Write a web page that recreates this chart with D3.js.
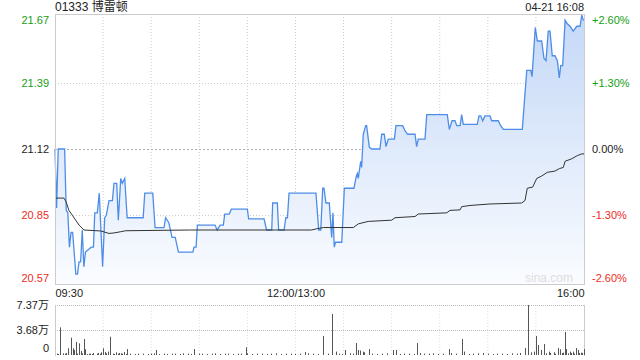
<!DOCTYPE html>
<html>
<head>
<meta charset="utf-8">
<script src="https://cdn.jsdelivr.net/npm/d3@7"></script>
<style>
body { margin: 0; background: #fff; }
svg { font-family: "Liberation Sans", Arial, sans-serif; }
</style>
</head>
<body>
<svg id="chart" width="640" height="360"></svg>
<script>
// minute index (0 = 09:30, 150 = 12:00/13:00, 330 = 16:00)
const priceMin = [0,1,2,6,7,8,9,10,11,13,14,15,16,17,18,19,22.6,24,24.8,26.4,27.6,29.7,31,32,33.7,35.8,36.8,38.5,39.5,41,42,43.5,45,55,56,61,62.4,68,69,71,73,75,77,84,86,86.7,88,88.8,99.8,101.2,103,105,105.9,108.7,110,120,120.8,130.4,132,135.2,135.8,138.7,139.5,142.9,144,145,146,162.8,164.5,165.8,167,167.8,169,171.1,172.6,173.4,174.2,175,178.9,180.5,186.5,187.8,188.6,189.2,190.7,191.3,192.3,193.8,194.4,196.1,197.6,202.7,203.8,205.4,206.5,207.9,211.7,212.7,216.9,218.3,220,224.6,225.6,226.6,230.8,231.9,244.7,246,247.7,249.5,250.6,252.7,253.7,254.7,263.4,264.5,265.6,266.8,268.2,271.4,272.4,276.5,278,279.7,291.5,294.3,296.8,297.6,299.6,300.9,303.6,305,306.3,307.7,308.8,310.2,311.9,313.4,314.6,315.5,316.7,318.2,319.6,321.3,323.3,325.5,327.5,328.6,329.6,330];
const priceVal = [21.12,20.88,21.12,21.12,20.87,20.86,20.72,20.78,20.78,20.61,20.61,20.66,20.66,20.79,20.64,20.70,20.72,20.72,20.86,20.86,20.94,20.64,20.84,20.85,20.91,20.91,20.98,20.98,20.83,21.00,20.98,21.00,20.84,20.84,20.94,20.94,20.80,20.80,20.84,20.82,20.76,20.76,20.70,20.70,20.70,20.72,20.72,20.81,20.81,20.79,20.81,20.81,20.855,20.855,20.875,20.875,20.835,20.835,20.79,20.79,20.90,20.90,20.79,20.79,20.84,20.84,20.94,20.94,20.79,20.79,20.96,20.96,20.90,20.90,20.76,20.86,20.72,20.74,20.74,20.96,20.96,21.005,21.02,21.00,21.07,21.045,21.18,21.215,21.215,21.127,21.12,21.12,21.18,21.18,21.13,21.16,21.16,21.215,21.215,21.195,21.18,21.18,21.13,21.16,21.16,21.26,21.26,21.20,21.235,21.235,21.215,21.215,21.26,21.22,21.22,21.255,21.255,21.235,21.255,21.255,21.235,21.235,21.215,21.20,21.20,21.44,21.44,21.415,21.615,21.56,21.56,21.49,21.48,21.60,21.60,21.50,21.50,21.48,21.41,21.46,21.46,21.645,21.63,21.62,21.60,21.62,21.62,21.665,21.645,21.645];

const avgMin = [0.4,5.6,6.9,8.7,10.8,12.9,15,18.1,28.5,33.7,36.8,41,44.1,84,160,163.3,167.4,186.1,189.2,195.4,210,212.1,224.6,226.6,244.4,246.4,252.7,253.7,258.9,271.4,291.1,293.2,294.6,298,300.5,303.6,307.1,311.9,314.6,317.1,318.2,322.3,325.8,328.6,330];
const avgVal = [20.92,20.92,20.905,20.87,20.85,20.83,20.81,20.79,20.786,20.776,20.778,20.783,20.787,20.79,20.79,20.795,20.80,20.80,20.815,20.825,20.83,20.84,20.845,20.855,20.86,20.87,20.872,20.885,20.89,20.896,20.90,20.91,20.96,20.965,21.00,21.01,21.025,21.03,21.04,21.045,21.07,21.08,21.093,21.10,21.10];

// volume, in 万 shares
const volMin = [3,8,10,11,12,13,15,16,18,19,24,29,30,31,33,34,38,40,43,45,63,87,119,156,167,173,175,181,188,189,190,192,193,196,211,213,226,228,246,247,254,255,267,293,295,297,299,300,301,303,305,308,311,314,315,318,319,321,323,325,326,330];
const volVal = [4.08,0.99,2.55,0.99,0.74,1.92,1.72,0.6,2.36,0.84,0.3,0.4,0.99,0.45,0.5,2.70,0.4,0.3,0.45,0.88,0.74,0.88,1.13,0.45,2.80,6.04,0.5,0.74,1.77,0.74,0.66,0.5,0.4,0.88,0.74,0.74,1.77,0.3,0.88,0.3,2.36,0.5,0.3,1.03,7.37,0.4,0.5,2.80,1.47,0.74,1.62,0.5,0.4,1.03,0.84,3.39,0.88,0.5,0.5,1.03,0.74,0.88];
const smallMin = [1,2,5,6,7,14,17,20,21,22,23,26,27,28,32,36,37,39,41,42,44,47,50,52,55,58,60,62,65,68,70,73,75,78,80,83,85,90,92,95,98,100,103,106,108,111,114,116,120,123,126,129,132,135,138,141,144,147,150,153,158,161,164,170,177,179,184,186,198,201,204,207,215,218,221,224,230,233,236,239,242,250,258,261,264,270,273,276,279,282,285,288,290,306,309,312,316,317,320,322,324,327,328,329];
const smallVal = [0.2,0.15,0.25,0.2,0.3,0.2,0.25,0.15,0.2,0.2,0.15,0.2,0.3,0.2,0.25,0.2,0.15,0.2,0.25,0.2,0.15,0.2,0.15,0.2,0.2,0.15,0.2,0.25,0.15,0.2,0.15,0.2,0.2,0.15,0.25,0.2,0.15,0.2,0.2,0.15,0.2,0.25,0.15,0.2,0.2,0.15,0.2,0.2,0.25,0.15,0.2,0.2,0.15,0.2,0.25,0.15,0.2,0.2,0.15,0.2,0.25,0.2,0.15,0.2,0.2,0.15,0.25,0.2,0.2,0.15,0.2,0.25,0.15,0.2,0.2,0.15,0.2,0.2,0.25,0.15,0.2,0.2,0.15,0.2,0.25,0.2,0.15,0.2,0.2,0.15,0.25,0.2,0.3,0.25,0.3,0.2,0.3,0.35,0.25,0.3,0.2,0.3,0.35,0.3];

const priceTicks = [21.67,21.39,21.12,20.85,20.57];
const pctTicks = ["+2.60%","+1.30%","0.00%","-1.30%","-2.60%"];
const timeTicks = [0,150,330];
const timeLabels = ["09:30","12:00/13:00","16:00"];
const volTicks = [7.37,3.68,0];
const volLabels = ["7.37万","3.68万","0"];
const preClose = 21.12;

const svg = d3.select("#chart");
const L = 55, R = 584, T = 14, B = 284, VT = 305, VB = 355;
const green = "#16a016", red = "#ee2c24";

const x = d3.scaleLinear().domain([0,330]).range([L,R]);
const y = d3.scaleLinear().domain([20.57,21.67]).range([B,T]);
const yv = d3.scaleLinear().domain([0,7.37]).range([VB,VT]);

const defs = svg.append("defs");
const grad = defs.append("linearGradient").attr("id","fillGrad")
	.attr("gradientUnits","userSpaceOnUse").attr("x1",0).attr("x2",0).attr("y1",T).attr("y2",B);
grad.append("stop").attr("offset","0%").attr("stop-color","rgb(196,216,247)");
grad.append("stop").attr("offset","100%").attr("stop-color","rgb(250,252,255)");

// grid
const grid = svg.append("g");
d3.range(30,330,30).forEach(m => {
	grid.append("line").attr("x1",x(m)).attr("x2",x(m)).attr("y1",T).attr("y2",B)
		.attr("stroke","#ccc").attr("stroke-dasharray","1,2");
	grid.append("line").attr("x1",x(m)).attr("x2",x(m)).attr("y1",VT).attr("y2",VB)
		.attr("stroke","#ddd").attr("stroke-dasharray","1,2");
});
[21.39,20.85].forEach(p => {
	grid.append("line").attr("x1",L).attr("x2",R).attr("y1",Math.round(y(p))+0.5).attr("y2",Math.round(y(p))+0.5)
		.attr("stroke","#ccc").attr("stroke-dasharray","1,2");
});
grid.append("line").attr("x1",L).attr("x2",R).attr("y1",Math.round(y(preClose))+0.5).attr("y2",Math.round(y(preClose))+0.5)
	.attr("stroke","#aaa").attr("stroke-dasharray","2,2");

// area + lines
const pts = priceMin.map((m,i) => [m, priceVal[i]]);
svg.append("path").datum(pts)
	.attr("d", d3.area().x(d => x(d[0])).y0(B).y1(d => y(d[1])))
	.attr("fill","url(#fillGrad)");
svg.append("path").datum(pts)
	.attr("d", d3.line().x(d => x(d[0])).y(d => y(d[1])))
	.attr("fill","none").attr("stroke","#4d8de8").attr("stroke-width",1.3);
const avg = avgMin.map((m,i) => [m, avgVal[i]]);
svg.append("path").datum(avg)
	.attr("d", d3.line().x(d => x(d[0])).y(d => y(d[1])))
	.attr("fill","none").attr("stroke","#333").attr("stroke-width",1);

// frame
svg.append("rect").attr("x",L+0.5).attr("y",T+0.5).attr("width",R-L).attr("height",B-T)
	.attr("fill","none").attr("stroke","#ccc");

svg.append("text").attr("x",573).attr("y",282).attr("text-anchor","end")
	.attr("font-size",12).attr("fill","#ddd").text("sina.com");

// price axes
const leftAxis = svg.append("g").attr("transform",`translate(${L-3},0)`)
	.call(d3.axisLeft(y).tickValues(priceTicks).tickSize(0).tickFormat(d3.format(".2f")));
const rightAxis = svg.append("g").attr("transform",`translate(${R+5},0)`)
	.call(d3.axisRight(y).tickValues(priceTicks).tickSize(0).tickFormat((d,i) => pctTicks[i]));
[leftAxis, rightAxis].forEach(a => {
	a.select(".domain").remove();
	a.selectAll("text").attr("font-size",11).attr("font-family","Liberation Sans, Arial, sans-serif")
		.attr("fill", d => d > preClose ? green : d < preClose ? red : "#222")
		.attr("dy", d => d === priceTicks[0] ? "0.9em" : d === priceTicks[4] ? "-0.2em" : "0.32em");
});

// time axis
const tAxis = svg.append("g").attr("transform",`translate(0,${B})`)
	.call(d3.axisBottom(x).tickValues(timeTicks).tickSize(0).tickPadding(5).tickFormat((d,i) => timeLabels[i]));
tAxis.select(".domain").remove();
tAxis.selectAll("text").attr("font-size",11).attr("fill","#222").attr("font-family","Liberation Sans, Arial, sans-serif")
	.attr("text-anchor", d => d === 0 ? "start" : d === 330 ? "end" : "middle");

// volume panel
svg.append("line").attr("x1",L).attr("x2",R).attr("y1",VT+0.5).attr("y2",VT+0.5).attr("stroke","#bbb").attr("stroke-dasharray","1,1");
svg.append("line").attr("x1",L).attr("x2",R).attr("y1",Math.round(yv(3.68))+0.5).attr("y2",Math.round(yv(3.68))+0.5).attr("stroke","#bbb").attr("stroke-dasharray","1,1");
svg.append("line").attr("x1",L+0.5).attr("x2",L+0.5).attr("y1",VT).attr("y2",VB+1).attr("stroke","#ccc");
svg.append("line").attr("x1",R+0.5).attr("x2",R+0.5).attr("y1",VT).attr("y2",VB+1).attr("stroke","#ccc");

const bars = smallMin.map((m,i) => [m, smallVal[i]]).concat(volMin.map((m,i) => [m, volVal[i]]));
svg.append("g").selectAll("rect").data(bars).join("rect")
	.attr("x", d => Math.round(x(d[0]))).attr("width",1)
	.attr("y", d => yv(d[1])).attr("height", d => VB - yv(d[1]))
	.attr("fill","#555");

const vAxis = svg.append("g").attr("transform",`translate(${L-3},0)`)
	.call(d3.axisLeft(yv).tickValues(volTicks).tickSize(0).tickFormat((d,i) => volLabels[i]));
vAxis.select(".domain").remove();
vAxis.selectAll("text").attr("font-size",11).attr("fill","#222")
	.attr("font-family","Liberation Sans, 'Noto Sans CJK SC', sans-serif")
	.attr("dy", d => d === 0 ? "-0.3em" : "0.32em");

// header
svg.append("text").attr("x",L).attr("y",11).attr("font-size",12).attr("fill","#222")
	.attr("font-family","Liberation Sans, 'Noto Sans CJK SC', sans-serif").text("01333 博雷顿");
svg.append("text").attr("x",R).attr("y",11).attr("text-anchor","end").attr("font-size",11).attr("fill","#222")
	.text("04-21 16:08");
</script>
</body>
</html>
